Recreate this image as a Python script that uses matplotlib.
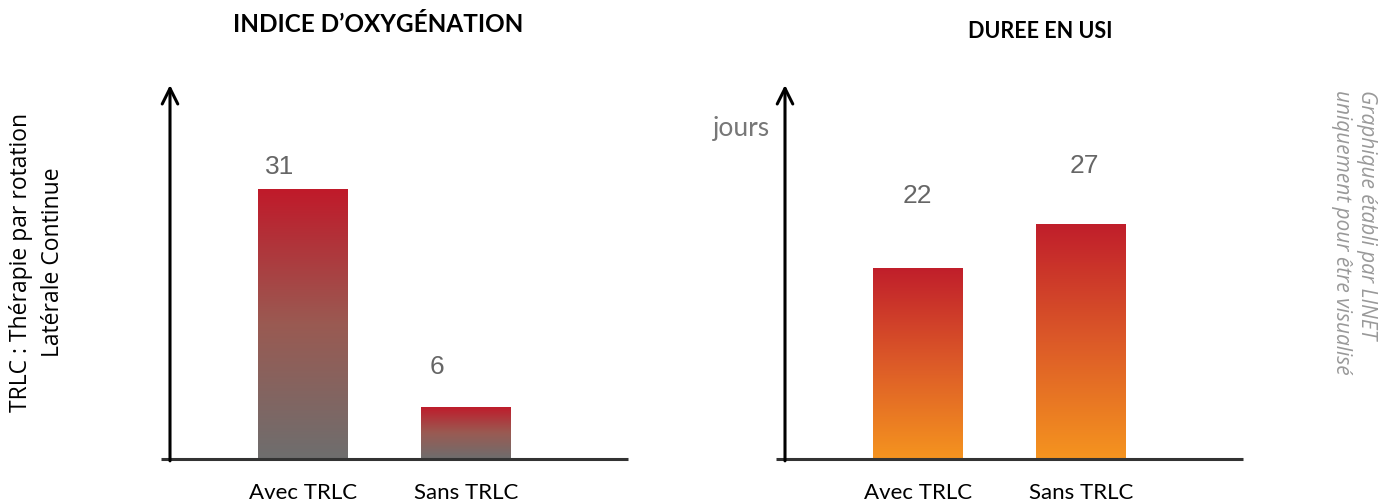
import numpy as np
import matplotlib
matplotlib.use('Agg')
import matplotlib.pyplot as plt
from matplotlib.colors import LinearSegmentedColormap

# data
categories = ['Avec TRLC', 'Sans TRLC']
oxy_values = [31, 6]
usi_values = [22, 27]
oxy_title = 'INDICE D\u2019OXYGÉNATION'
usi_title = 'DUREE EN USI'
usi_unit = 'jours'
note_left = 'TRLC : Thérapie par rotation\nLatérale Continue'
note_right = 'Graphique établi par LINET\nuniquement pour être visualisé'

W, H = 1393, 501
fig = plt.figure(figsize=(W / 100, H / 100), dpi=100)

def fx(px):
	return px / W

def fy(py):
	return 1 - py / H

text_font = ['Lato', 'DejaVu Sans']
note_font = ['Open Sans', 'DejaVu Sans']
num_font = ['Liberation Sans', 'DejaVu Sans']

cmap_oxy = LinearSegmentedColormap.from_list('oxy', ['#6e6e6e', '#9a5a52', '#c01a2a'])
cmap_usi = LinearSegmentedColormap.from_list('usi', ['#f5941f', '#dc5a28', '#c01e2b'])

# label offsets in pixels (dx, dy of label centre above bar top)
oxy_offsets = [(-23, 22), (-29, 40)]
usi_offsets = [(-1, 72), (3, 58)]

def panel(left_px, values, cmap, offsets, title, title_x, title_y, title_size):
	ax = fig.add_axes([fx(left_px), fy(459), fx(458), fy(85) - fy(459)])
	ymax = 374 / 8.7
	x = np.arange(len(values))
	bars = ax.bar(x, values, width=0.552)
	grad = np.linspace(0, 1, 256).reshape(-1, 1)
	for b in bars:
		x0, y0 = b.get_xy()
		w, h = b.get_width(), b.get_height()
		im = ax.imshow(grad, extent=[x0, x0 + w, y0, y0 + h], origin='lower',
			cmap=cmap, aspect='auto', zorder=2)
		im.set_clip_path(b)
		b.set_facecolor('none')
		b.set_edgecolor('none')
	ax.set_xlim(-133 / 163, 325 / 163)
	ax.set_ylim(0, ymax)
	for s in ax.spines.values():
		s.set_visible(False)
	ax.set_xticks([])
	ax.set_yticks([])
	ax.patch.set_alpha(0)
	# axes lines
	ax.plot([-0.02, 1], [0, 0], transform=ax.transAxes, color='#333333', lw=2.2,
		clip_on=False, solid_capstyle='butt')
	ax.annotate('', xy=(0, 1.0), xytext=(0, -0.005), xycoords='axes fraction',
		arrowprops=dict(arrowstyle='->', lw=2.2, color='black', mutation_scale=28,
		shrinkA=0, shrinkB=0))
	for xi, v, (dx, dy) in zip(x, values, offsets):
		ax.annotate(str(v), xy=(xi, v), xytext=(dx, dy), textcoords='offset pixels',
			ha='center', va='center', fontsize=19, color='#666666', family=num_font)
		ax.annotate(categories[xi], xy=(xi, 0), xytext=(0, -34), textcoords='offset pixels',
			ha='center', va='center', fontsize=16, family=text_font, color='black')
	fig.text(fx(title_x), fy(title_y), title, ha='center', va='center',
		fontsize=title_size, fontweight='bold', family=text_font)
	return ax

panel(170, oxy_values, cmap_oxy, oxy_offsets, oxy_title, 378, 25, 17.5)
panel(785, usi_values, cmap_usi, usi_offsets, usi_title, 1040, 32, 15.5)

fig.text(fx(770), fy(129), usi_unit, ha='right', va='center', fontsize=19,
	color='#777777', family=text_font)

fig.text(fx(37), fy(262), note_left, rotation=90, ha='center', va='center',
	multialignment='center', fontsize=16.5, linespacing=1.45, family=note_font,
	color='black')
fig.text(fx(1354), fy(90), note_right, rotation=-90, ha='center', va='top',
	multialignment='left', fontsize=15, linespacing=1.25, family=note_font,
	color='#999999', style='italic')

fig.savefig('out.png', dpi=100)
